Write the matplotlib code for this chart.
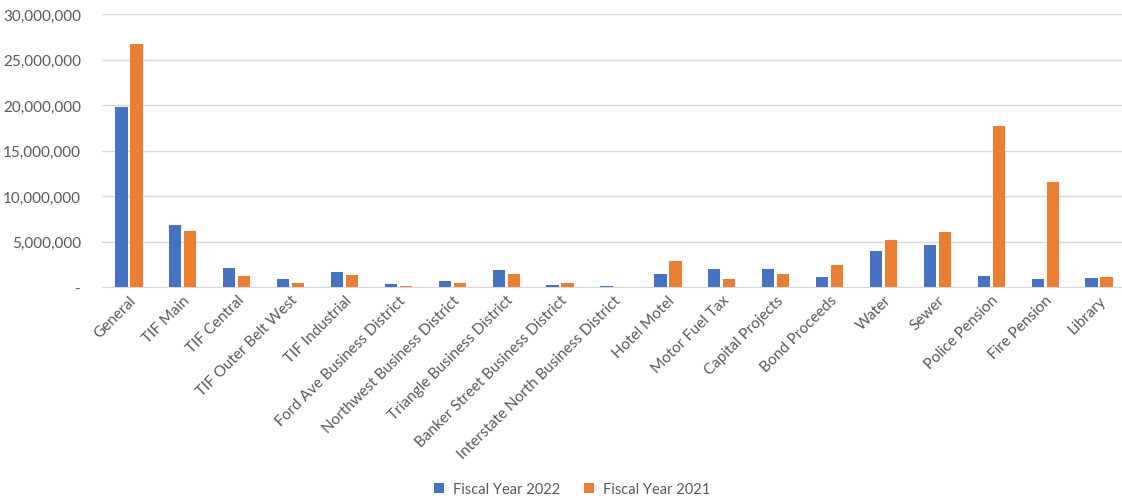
import matplotlib
matplotlib.use("Agg")
import matplotlib.pyplot as plt
import numpy as np
from matplotlib.ticker import FuncFormatter, MultipleLocator

categories = ["General", "TIF Main", "TIF Central", "TIF Outer Belt West", "TIF Industrial",
              "Ford Ave Business District", "Northwest Business District",
              "Triangle Business District", "Banker Street Business District",
              "Interstate North Business District", "Hotel Motel", "Motor Fuel Tax",
              "Capital Projects", "Bond Proceeds", "Water", "Sewer", "Police Pension",
              "Fire Pension", "Library"]
fy2022 = [19750000, 6800000, 2100000, 950000, 1680000, 330000, 660000, 1870000, 220000,
          110000, 1460000, 2000000, 2040000, 1070000, 4000000, 4660000, 1190000, 910000, 1040000]
fy2021 = [26700000, 6200000, 1170000, 440000, 1350000, 140000, 510000, 1460000, 510000,
          0, 2860000, 880000, 1430000, 2400000, 5200000, 6050000, 17650000, 11550000, 1100000]
series_names = ["Fiscal Year 2022", "Fiscal Year 2021"]
colors = ["#4472C4", "#ED7D31"]

plt.rcParams['font.family'] = ['Lato', 'DejaVu Sans']
fig = plt.figure(figsize=(11.22, 5.02), dpi=100)
ax = fig.add_axes([102 / 1122, 0.426, 1024 / 1122, 0.544])

x = np.arange(len(categories))
w = 0.228
off = 0.139
ax.bar(x - off, fy2022, width=w, color=colors[0], label=series_names[0], zorder=3)
ax.bar(x + off, fy2021, width=w, color=colors[1], label=series_names[1], zorder=3)

ax.set_xlim(-0.5, len(categories) - 0.5)
ax.set_ylim(0, 30000000)
ax.yaxis.set_major_locator(MultipleLocator(5000000))
ax.yaxis.set_major_formatter(FuncFormatter(lambda v, p: "-" if v == 0 else f"{int(v):,}"))
ax.grid(axis='y', color='#d9d9d9', linewidth=1, zorder=0)
for s in ['top', 'right', 'left']:
    ax.spines[s].set_visible(False)
ax.spines['bottom'].set_color('#d9d9d9')
ax.tick_params(axis='both', length=0, colors='#595959', labelsize=11)
ax.tick_params(axis='y', pad=15)
ax.tick_params(axis='x', pad=4)
ax.set_xticks(x)
ax.set_xticklabels(categories, rotation=45, ha='right', rotation_mode='anchor')

fig.legend(loc='center', bbox_to_anchor=(572 / 1122, 1 - 490 / 502), ncol=2, frameon=False,
           fontsize=10.5, handlelength=0.7, handleheight=0.7, columnspacing=1.6,
           handletextpad=0.6, labelcolor='#595959')

fig.savefig("out.png", dpi=100)
